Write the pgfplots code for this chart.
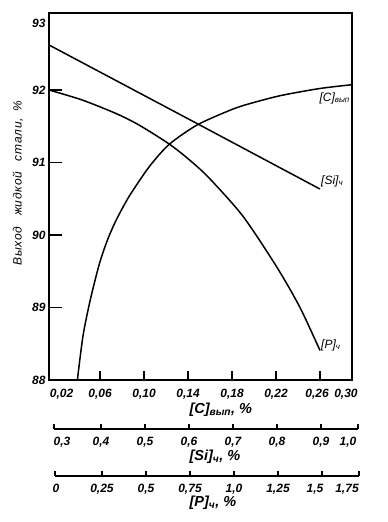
\documentclass[border=0pt]{standalone}
\usepackage{pgfplots}
\pgfplotsset{compat=1.18}
\usepackage{fontspec}
\setmainfont{Liberation Sans}
\newfontfamily\spaced[LetterSpace=6.0]{Liberation Sans}
\begin{document}
\begin{tikzpicture}
\path[use as bounding box] (0,0) rectangle (388pt,-522pt);
\pgfplotsset{
  base/.style={scale only axis, anchor=south west, at={(49pt,-380pt)},
    width=303pt, height=367pt, ymin=88, ymax=93.062,
    axis line style={line width=2pt},
    tick style={line width=1.3pt, black},
    ticklabel style={font=\fontsize{12}{13}\selectfont\bfseries\itshape},
    clip=true},
  lower/.style={scale only axis, anchor=south west, height=20pt,
    ymin=0, ymax=1, axis x line*=bottom, axis y line=none,
    every outer x axis line/.append style={-},
    axis line style={line width=2pt, -},
    tick style={line width=1.3pt, black},
    xtick align=inside, major tick length=5pt,
    ticklabel style={font=\fontsize{12}{13}\selectfont\bfseries\itshape},
    xticklabel style={yshift=-5pt},
    extra x tick style={major tick length=0pt}},
}
% main axis, [C]_vyp scale
\begin{axis}[base, xmin=0.0136, xmax=0.2891,
  xtick={0.06,0.10,0.14,0.18,0.22,0.26},
  xticklabels={{0,06},{0,10},{0,14},{0,18},{0,22},},
  xtick align=inside, major tick length=9pt, xtick pos=bottom,
  xticklabel style={yshift=-6pt},
  extra x ticks={0.0250,0.2573,0.2836}, extra x tick labels={{0,02},{0,26},{0,30}},
  extra x tick style={major tick length=0pt},
  ytick=\empty]
\addplot[line width=1.5pt, smooth, tension=0.45] coordinates {
(0.0394,88.000) (0.0445,88.607) (0.0509,89.090) (0.0591,89.586) (0.0664,89.917)
(0.0745,90.200) (0.0864,90.531) (0.1045,90.937) (0.1227,91.248) (0.1482,91.517)
(0.1782,91.721) (0.1936,91.801) (0.2236,91.921) (0.2600,92.021) (0.2891,92.073)};
\end{axis}
% [Si]_ch overlay, carries y ticks
\begin{axis}[base, xmin=0.2813, xmax=0.9731, xtick=\empty,
  ytick={88,89,90,91,92}, yticklabels={88,89,90,91,92},
  extra y ticks={92.92}, extra y tick labels={93},
  extra y tick style={major tick length=0pt},
  ytick align=inside, major tick length=13pt, ytick pos=left]
\addplot[line width=1.5pt] coordinates {(0.2813,92.621) (0.6169,91.545) (0.9000,90.634)};
\end{axis}
% [P]_ch overlay
\begin{axis}[base, xmin=-0.0539, xmax=1.6835, xtick=\empty, ytick=\empty]
\addplot[line width=1.5pt, smooth, tension=0.45] coordinates {
(-0.0539,92.000) (0.1353,91.863) (0.3303,91.676) (0.4622,91.517) (0.6342,91.257)
(0.7489,91.041) (0.8635,90.788) (1.0585,90.258) (1.2534,89.554) (1.3853,89.000)
(1.5000,88.407)};
\end{axis}
% lower [Si] scale
\begin{axis}[lower, at={(54pt,-429pt)}, width=304pt, xmin=0.2932, xmax=0.9841,
  xtick={0.2932,0.4,0.5,0.6,0.7,0.8,0.9,0.9841},
  xticklabels={,{0,4},{0,5},{0,6},{0,7},{0,8},{0,9},},
  extra x ticks={0.3114,0.9614}, extra x tick labels={{0,3},{1,0}}]
\end{axis}
% lower [P] scale
\begin{axis}[lower, at={(55pt,-476pt)}, width=304pt, xmin=-0.0170, xmax=1.7102,
  xtick={-0.0170,0.25,0.5,0.75,1.0,1.25,1.5,1.7102},
  xticklabels={,{0,25},{0,5},{0,75},{1,0},{1,25},,},
  extra x ticks={-0.0114,1.460,1.642}, extra x tick labels={0,{1,5},{1,75}}]
\end{axis}
% labels
\node[rotate=90, font=\fontsize{12}{14}\selectfont\spaced\itshape] at (18pt,-183pt)
  {Выход\hspace{0.9em}жидкой\hspace{0.9em}стали,\hspace{0.6em}\%};
\node[anchor=west, font=\fontsize{14.5}{16}\selectfont\bfseries\itshape] at (186pt,-410pt) {[C]\textsubscript{вып}, \%};
\node[anchor=west, font=\fontsize{14.5}{16}\selectfont\bfseries\itshape] at (186pt,-457pt) {[Si]\textsubscript{ч}, \%};
\node[anchor=west, font=\fontsize{14.5}{16}\selectfont\bfseries\itshape] at (186pt,-503pt) {[P]\textsubscript{ч}, \%};
\node[anchor=east, inner sep=1pt, font=\fontsize{12}{13}\selectfont\itshape] at (351pt,-98pt) {[C]\textsubscript{вып}};
\node[anchor=west, inner sep=1pt, font=\fontsize{12}{13}\selectfont\itshape] at (320pt,-181pt) {[Si]\textsubscript{ч}};
\node[anchor=west, inner sep=1pt, font=\fontsize{12}{13}\selectfont\itshape] at (320pt,-345pt) {[P]\textsubscript{ч}};
\end{tikzpicture}
\end{document}
